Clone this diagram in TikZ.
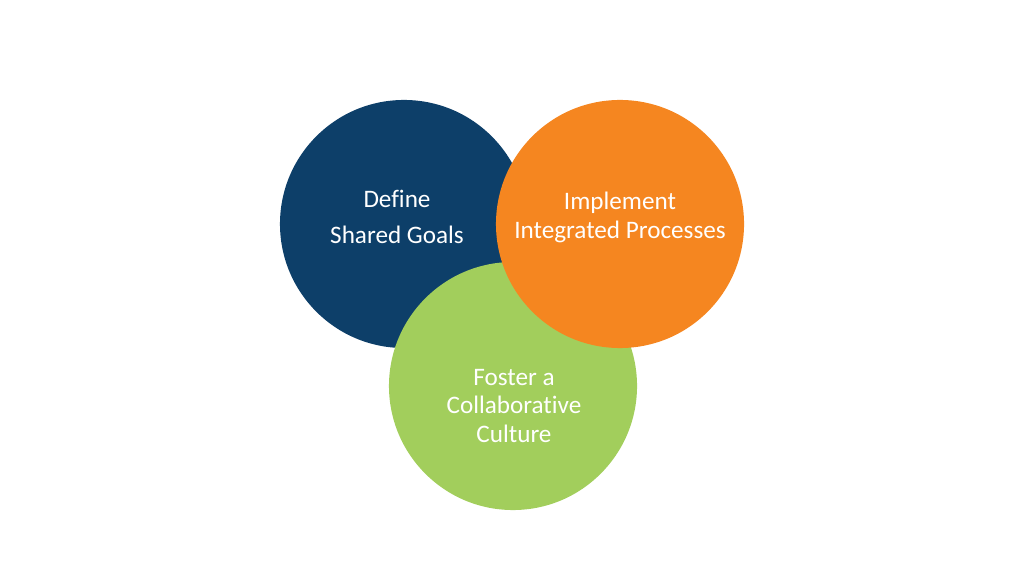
\documentclass[tikz,border=0pt]{standalone}
\usepackage{fontspec}
\setmainfont{Carlito}[Ligatures=NoCommon]
\usepackage{tikz}
\usetikzlibrary{positioning}
\definecolor{vdGoal}{HTML}{0D3F69}
\definecolor{vdProc}{HTML}{F58620}
\definecolor{vdCult}{HTML}{A2CE5C}
\tikzset{
  vdcircle/.style={circle, minimum size=6.2cm, inner sep=0pt, draw=none},
  vdtext/.style={text=white, align=center, anchor=center, inner sep=0pt,
    font=\fontsize{17.9}{20.6}\selectfont}
}
\begin{document}
\begin{tikzpicture}[x=0.025cm, y=-0.025cm]
  \useasboundingbox (0,0) rectangle (1024,576);
  % circles, back to front
  \node[vdcircle, fill=vdGoal] (goal) at (404,224) {};
  \node[vdcircle, fill=vdCult] (cult) at (513,386) {};
  \node[vdcircle, fill=vdProc] (proc) at (620,224) {};
  % labels
  \node[vdtext] (goaltxt) at (397,217) {Define\\[5pt]Shared Goals};
  \node[vdtext] (proctxt) at (620,217) {Implement\\Integrated Processes};
  \node[vdtext] (culttxt) at (514,406) {Foster a\\Collaborative\\Culture};
\end{tikzpicture}
\end{document}
